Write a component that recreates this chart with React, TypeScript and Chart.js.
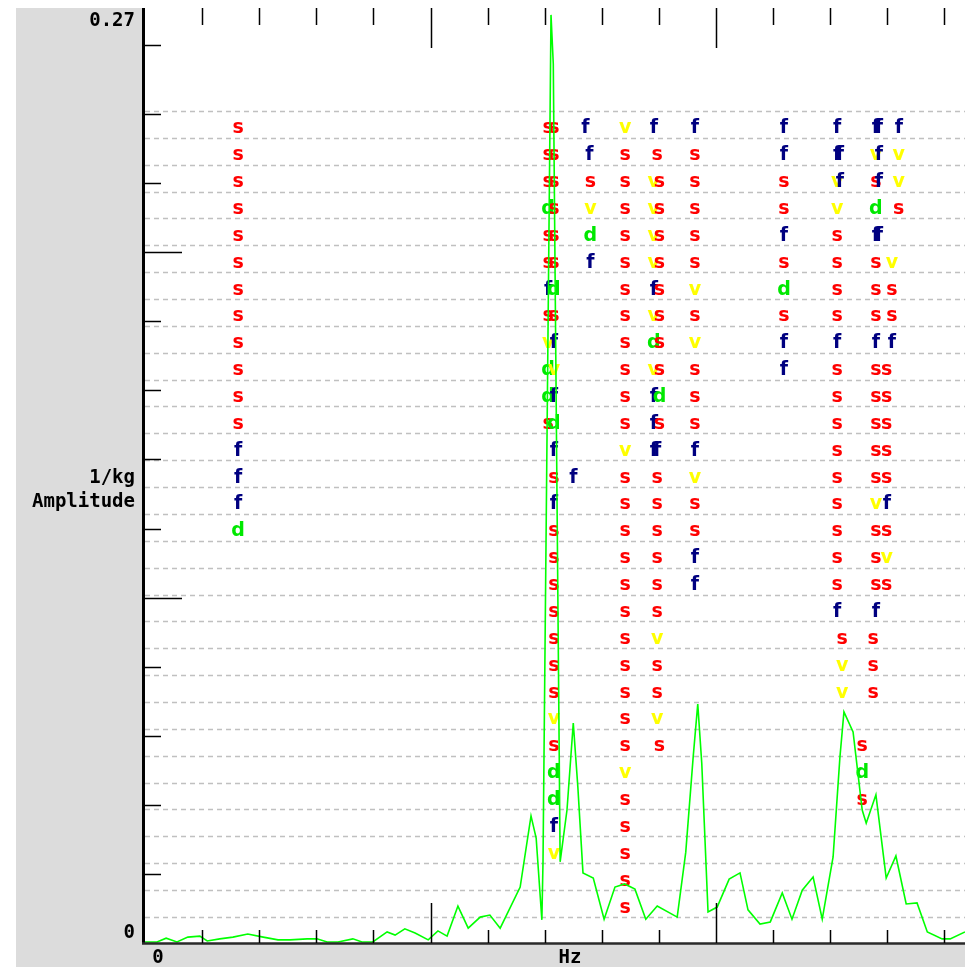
import { useEffect, useRef } from "react";
import { Chart, registerables } from "chart.js";

Chart.register(...registerables);

// Amplitude spectrum: frequency (Hz) against amplitude (1/kg)
const freqHz = [
  0, 21, 37, 56, 75, 96, 109, 131, 154, 180, 207, 233, 254, 284, 301, 319, 338, 364, 380, 399,
  424, 438, 455, 473, 496, 513, 529, 548, 566, 587, 604, 622, 657, 676, 685, 695, 697, 711, 715,
  727, 739, 750, 758, 767, 785, 804, 823, 840, 858, 877, 897, 932, 947, 960, 968, 975, 986, 1002,
  1023, 1042, 1056, 1077, 1095, 1116, 1133, 1151, 1170, 1186, 1205, 1217, 1224, 1240, 1256, 1263,
  1280, 1298, 1315, 1333, 1352, 1370, 1396, 1410, 1436,
];
const amplitude = [
  0.0003, 0.0003, 0.0014, 0.0003, 0.0017, 0.002, 0.0006, 0.0012, 0.0017, 0.0026, 0.0017, 0.0009,
  0.0009, 0.0012, 0.0012, 0.0003, 0.0003, 0.0012, 0.0003, 0.0003, 0.0032, 0.0023, 0.0041, 0.0029,
  0.0009, 0.0035, 0.002, 0.0107, 0.0043, 0.0075, 0.0081, 0.0043, 0.0162, 0.0368, 0.0304, 0.0067,
  0.0235, 0.2687, 0.2545, 0.0235, 0.0385, 0.0637, 0.0452, 0.0203, 0.0188, 0.0069, 0.0162, 0.0171,
  0.0156, 0.0069, 0.0107, 0.0075, 0.0263, 0.0539, 0.0692, 0.0521, 0.009, 0.0104, 0.0185, 0.0203,
  0.0096, 0.0055, 0.0061, 0.0145, 0.0069, 0.0153, 0.0191, 0.0069, 0.0249, 0.0539, 0.0669, 0.0611,
  0.0385, 0.0347, 0.0429, 0.0188, 0.0252, 0.0113, 0.0116, 0.0032, 0.0012, 0.0012, 0.0032,
];

// Axis ranges and tick steps
const X_MAX = 1436;
const X_TICK = 100;
const X_MAJOR = 500;
const Y_MAX = 0.2707;
const Y_TICK = 0.02;
const Y_TICKS_TOP = 0.26;
const Y_TOP_LABEL = "0.27";
const ROW_COUNT = 30;

// Peak marks: one frequency per column, one character per row (top row first), "." = no mark
const markFreqs = [
  163, 706, 716, 771, 778, 780, 750, 841, 891, 897, 901, 963, 1119, 1212, 1217, 1221, 1280, 1285,
  1275, 1320, 1308, 1299, 1256,
];
const markRows = [
  "ssssssssssssfffd",
  "sssdssfsvdds",
  "ssssssdsfvfdfsfsssssssvsddfv",
  "f",
  ".f",
  "..svdf",
  ".............f",
  "vsssssssssssvsssssssssssvsssss",
  "f.vvvvfvdvfff",
  ".s..........fssssssvssv",
  "..ssssssssds...........s",
  "fsssssvsvsssfvssff",
  "ffssfsdsff",
  "ffvvssssfsssssssssf",
  ".ff",
  "...................svv",
  "fvsdfsssfsssssvsssf",
  "fff.f",
  "...................sss",
  "fvvs",
  ".....vssf",
  ".........sssssfsvs",
  ".......................sds",
];
const markColors: Record<string, string> = {
  s: "#ff0000",
  f: "#000080",
  v: "#ffff00",
  d: "#00e800",
};

const PANEL = "#dcdcdc";
const LABEL_FONT = 'bold 19px "DejaVu Sans Mono", monospace';
const MARK_FONT = 'bold 19px "DejaVu Sans", sans-serif';

const framePlugin = {
  id: "frame",
  beforeDraw(chart: any) {
    const { ctx, chartArea: a, width, height } = chart;
    const rows = chart.scales.rows;
    ctx.save();
    ctx.fillStyle = "#ffffff";
    ctx.fillRect(0, 0, width, height);
    ctx.fillStyle = PANEL;
    ctx.fillRect(16, a.top, a.left - 3 - 16, height - a.top);
    ctx.fillRect(16, a.bottom + 1, a.right - 16, height - a.bottom - 1);
    // dashed row separators
    ctx.strokeStyle = "#c0c0c0";
    ctx.lineWidth = 1.5;
    ctx.setLineDash([5, 4]);
    for (let k = 0; k <= ROW_COUNT; k++) {
      const y = Math.round(rows.getPixelForValue(k)) + 0.5;
      ctx.beginPath();
      ctx.moveTo(a.left, y);
      ctx.lineTo(a.right, y);
      ctx.stroke();
    }
    ctx.restore();
  },
  beforeDatasetsDraw(chart: any) {
    const { ctx } = chart;
    const xs = chart.scales.x;
    const rows = chart.scales.rows;
    ctx.save();
    ctx.font = MARK_FONT;
    ctx.textAlign = "center";
    ctx.textBaseline = "alphabetic";
    markRows.forEach((col, c) => {
      const x = xs.getPixelForValue(markFreqs[c]);
      for (let i = 0; i < col.length; i++) {
        const ch = col[i];
        if (ch === ".") continue;
        const yc = rows.getPixelForValue(ROW_COUNT - i - 0.5);
        ctx.fillStyle = markColors[ch];
        ctx.fillText(ch, x, yc + 9);
      }
    });
    ctx.restore();
  },
  afterDraw(chart: any) {
    const { ctx, chartArea: a } = chart;
    const xs = chart.scales.x;
    const ys = chart.scales.y;
    ctx.save();
    ctx.setLineDash([]);
    // axes
    ctx.strokeStyle = "#000000";
    ctx.lineWidth = 3;
    ctx.beginPath();
    ctx.moveTo(a.left - 1.5, a.top);
    ctx.lineTo(a.left - 1.5, a.bottom + 1);
    ctx.stroke();
    ctx.strokeStyle = "#2a2a2a";
    ctx.lineWidth = 2.5;
    ctx.beginPath();
    ctx.moveTo(a.left - 3, a.bottom + 0.5);
    ctx.lineTo(a.right, a.bottom + 0.5);
    ctx.stroke();
    // amplitude ticks, drawn inward
    ctx.strokeStyle = "#000000";
    ctx.lineWidth = 1.5;
    for (let v = Y_TICK; v <= Y_TICKS_TOP + 1e-9; v += Y_TICK) {
      const y = Math.round(ys.getPixelForValue(v)) + 0.5;
      const major = Math.round(v * 100) % 10 === 0;
      ctx.beginPath();
      ctx.moveTo(a.left, y);
      ctx.lineTo(a.left + (major ? 37 : 16), y);
      ctx.stroke();
    }
    // frequency ticks on top and bottom edges
    for (let v = X_TICK; v <= X_MAX; v += X_TICK) {
      const x = Math.round(xs.getPixelForValue(v)) + 0.5;
      const major = v % X_MAJOR === 0;
      ctx.beginPath();
      ctx.moveTo(x, a.top);
      ctx.lineTo(x, a.top + (major ? 40 : 17));
      ctx.moveTo(x, a.bottom);
      ctx.lineTo(x, a.bottom - (major ? 40 : 13));
      ctx.stroke();
    }
    // labels
    ctx.fillStyle = "#000000";
    ctx.font = LABEL_FONT;
    ctx.textBaseline = "middle";
    ctx.textAlign = "right";
    const lx = a.left - 10;
    ctx.fillText(Y_TOP_LABEL, lx, ys.getPixelForValue(0.27) + 11);
    ctx.fillText("0", lx, ys.getPixelForValue(0) - 10);
    const mid = (a.top + a.bottom) / 2;
    ctx.fillText("1/kg", lx, mid + 3);
    ctx.fillText("Amplitude", lx, mid + 27);
    ctx.textAlign = "center";
    ctx.fillText("0", xs.getPixelForValue(0) + 13, a.bottom + 15);
    ctx.fillText("Hz", a.left + 425, a.bottom + 15);
    ctx.restore();
  },
};

export default function App() {
  const ref = useRef<HTMLCanvasElement>(null);
  useEffect(() => {
    const canvas = ref.current;
    if (!canvas) return;
    const chart = new Chart(canvas, {
      type: "scatter",
      data: {
        datasets: [
          {
            data: freqHz.map((f, i) => ({ x: f, y: amplitude[i] })),
            showLine: true,
            borderColor: "#00ff00",
            borderWidth: 1.6,
            pointRadius: 0,
            fill: false,
            tension: 0,
          },
        ],
      },
      options: {
        responsive: false,
        animation: false,
        devicePixelRatio: 1,
        layout: { padding: { left: 145, right: 2, top: 8, bottom: 24 } },
        plugins: { legend: { display: false }, tooltip: { enabled: false } },
        scales: {
          x: { type: "linear", min: 0, max: X_MAX, display: false },
          y: { type: "linear", min: 0, max: Y_MAX, display: false },
          rows: { type: "linear", axis: "y", min: -0.97, max: 33.83, display: false },
        },
      },
      plugins: [framePlugin],
    } as any);
    return () => chart.destroy();
  }, []);
  return (
    <div style={{ position: "fixed", left: 0, top: 0, width: 967, height: 967 }}>
      <canvas ref={ref} width={967} height={967} style={{ display: "block", width: 967, height: 967 }} />
    </div>
  );
}
